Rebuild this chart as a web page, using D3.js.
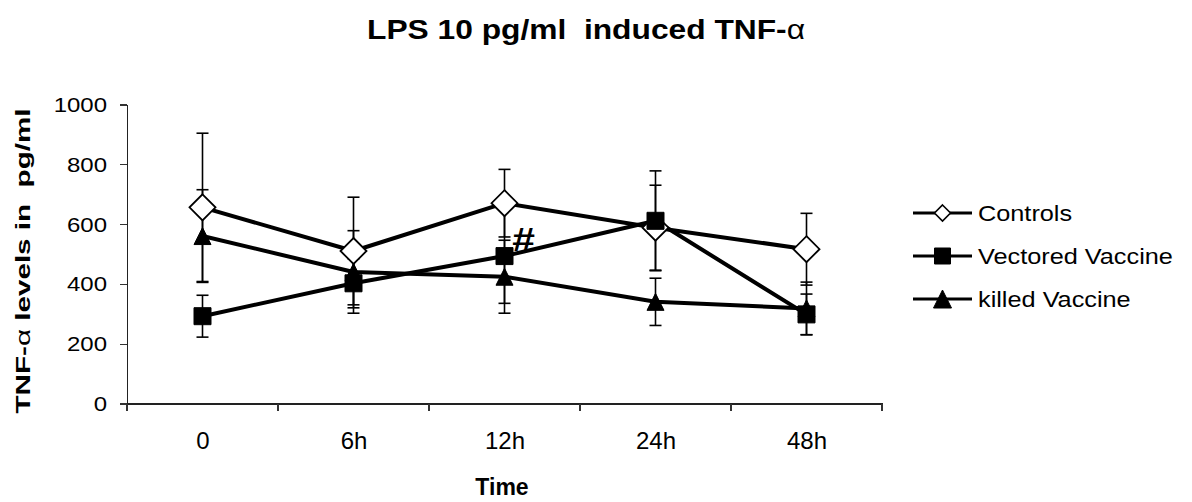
<!DOCTYPE html>
<html>
<head>
<meta charset="utf-8">
<script src="https://cdnjs.cloudflare.com/ajax/libs/d3/7.8.5/d3.min.js"></script>
<style>
  body { margin: 0; background: #fff; }
  svg text { font-family: "Liberation Sans", Arial, sans-serif; fill: #000; white-space: pre; }
</style>
</head>
<body>
<div id="chart"></div>
<script>

// Data
var categories = ["0", "6h", "12h", "24h", "48h"];
var yTicks = [0, 200, 400, 600, 800, 1000];

var controls      = [656, 510, 670, 588, 516];
var controlsErr   = [248, 180, 113, 142, 120];
var vectored      = [292, 402, 493, 611, 298];
var vectoredErr   = [70, 82, 158, 167, 68];
var killed        = [560, 440, 424, 340, 318];
var killedErr     = [155, 138, 122, 79, 88];

var seriesNames = ["Controls", "Vectored Vaccine", "killed Vaccine"];
var seriesShapes = ["diamond", "square", "triangle"];

var width = 1192, height = 502;

var svg = d3.select("#chart").append("svg")
  .attr("width", width)
  .attr("height", height);

svg.append("rect")
  .attr("width", width)
  .attr("height", height)
  .style("fill", "#fff");

// Scales
var x = d3.scalePoint()
  .domain(categories)
  .range([127, 882])
  .padding(0.5);

var xBand = d3.scaleBand()
  .domain(categories)
  .range([127, 882]);

var y = d3.scaleLinear()
  .domain([0, 1000])
  .range([403.5, 104.5]);

// Marker paths
function markerPath(shape, s){
  if (shape == "diamond") {
    return "M0," + (-s) + "L" + s + ",0L0," + s + "L" + (-s) + ",0Z";
  }
  if (shape == "square") {
    return "M" + (-s) + "," + (-s) + "H" + s + "V" + s + "H" + (-s) + "Z";
  }
  return "M0," + (-s) + "L" + s + "," + s + "H" + (-s) + "Z";
}
var markerSize = { diamond: 13, square: 8.5, triangle: 8.5 };

// Axes
var yAxis = d3.axisLeft(y)
  .tickValues(yTicks)
  .tickFormat(d3.format("d"))
  .tickSize(7)
  .tickSizeOuter(0);

var yAxisGroup = svg.append("g")
  .attr("class", "y-axis axis")
  .attr("transform", "translate(127,0)")
  .call(yAxis);

yAxisGroup.selectAll("text")
  .attr("x", null)
  .attr("dy", null)
  .attr("transform", "translate(-20,7) scale(1.2,1)")
  .style("font-size", "20px");

var xAxis = d3.axisBottom(x)
  .tickSize(0)
  .tickSizeOuter(0);

var xAxisGroup = svg.append("g")
  .attr("class", "x-axis axis")
  .attr("transform", "translate(0," + y(0) + ")")
  .call(xAxis);

xAxisGroup.selectAll("text")
  .attr("y", 45)
  .attr("dy", null)
  .style("font-size", "24px");

// category boundary ticks
xAxisGroup.selectAll(".bound")
  .data(categories.concat(["end"]))
  .enter()
  .append("line")
  .attr("class", "bound")
  .attr("x1", function(d){ return d == "end" ? xBand.range()[1] : xBand(d); })
  .attr("x2", function(d){ return d == "end" ? xBand.range()[1] : xBand(d); })
  .attr("y1", 0)
  .attr("y2", 7);

svg.selectAll(".axis path, .axis line")
  .style("stroke", "#333")
  .style("stroke-width", 1.2)
  .style("shape-rendering", "crispEdges");
svg.selectAll(".axis .domain").style("stroke", "#222");

// Titles
var title = svg.append("text")
  .attr("x", 586)
  .attr("y", 39)
  .attr("text-anchor", "middle")
  .attr("textLength", 438)
  .attr("lengthAdjust", "spacingAndGlyphs")
  .style("font-size", "28px")
  .style("font-weight", "bold");
title.append("tspan").text("LPS 10 pg/ml  induced TNF-");
title.append("tspan").style("font-weight", "normal").text("\u03b1");

svg.append("text")
  .attr("x", 502)
  .attr("y", 495)
  .attr("text-anchor", "middle")
  .style("font-size", "23px")
  .style("font-weight", "bold")
  .text("Time");

var yLabel = svg.append("text")
  .attr("transform", "translate(30,261) rotate(-90)")
  .attr("text-anchor", "middle")
  .attr("textLength", 305)
  .attr("lengthAdjust", "spacingAndGlyphs")
  .style("font-size", "21px")
  .style("font-weight", "bold");
yLabel.append("tspan").text("TNF-");
yLabel.append("tspan").style("font-weight", "normal").text("\u03b1");
yLabel.append("tspan").text(" levels in  pg/ml");

// Series
var series = [
  { name: seriesNames[0], shape: seriesShapes[0], values: controls, err: controlsErr, fill: "#fff" },
  { name: seriesNames[1], shape: seriesShapes[1], values: vectored, err: vectoredErr, fill: "#000" },
  { name: seriesNames[2], shape: seriesShapes[2], values: killed, err: killedErr, fill: "#000" }
];

var line = d3.line()
  .x(function(d){ return x(d.cat); })
  .y(function(d){ return y(d.v); });

series.forEach(function(s){
  s.points = categories.map(function(c, i){
    return { cat: c, v: s.values[i], e: s.err[i] };
  });
});

// error bars first
series.forEach(function(s){
  var g = svg.append("g").attr("class", "errors");
  var eb = g.selectAll(".eb")
    .data(s.points)
    .enter()
    .append("g")
    .attr("class", "eb")
    .style("stroke", "#000")
    .style("stroke-width", 1.6);
  eb.append("line")
    .attr("x1", function(d){ return x(d.cat); })
    .attr("x2", function(d){ return x(d.cat); })
    .attr("y1", function(d){ return y(d.v - d.e); })
    .attr("y2", function(d){ return y(d.v + d.e); });
  [-1, 1].forEach(function(sign){
    eb.append("line")
      .attr("x1", function(d){ return x(d.cat) - 6; })
      .attr("x2", function(d){ return x(d.cat) + 6; })
      .attr("y1", function(d){ return y(d.v + sign * d.e); })
      .attr("y2", function(d){ return y(d.v + sign * d.e); });
  });
});

// lines
series.forEach(function(s){
  svg.append("path")
    .datum(s.points)
    .attr("d", line)
    .style("fill", "none")
    .style("stroke", "#000")
    .style("stroke-width", 4)
    .style("stroke-linejoin", "round");
});

// markers
series.forEach(function(s){
  svg.selectAll(".m-" + s.shape)
    .data(s.points)
    .enter()
    .append("path")
    .attr("class", "m-" + s.shape)
    .attr("transform", function(d){ return "translate(" + x(d.cat) + "," + y(d.v) + ")"; })
    .attr("d", markerPath(s.shape, markerSize[s.shape]))
    .style("fill", s.fill)
    .style("stroke", "#000")
    .style("stroke-width", s.shape == "diamond" ? 1.8 : 1);
});

// significance mark on vectored vaccine at 12h
svg.append("text")
  .attr("transform", "translate(" + (x("12h") + 19) + "," + (y(vectored[2]) - 5) + ") scale(1.2,1)")
  .attr("text-anchor", "middle")
  .style("font-size", "34px")
  .style("font-weight", "bold")
  .text("#");

// Legend
var legend = svg.selectAll(".legendItem")
  .data(series)
  .enter()
  .append("g")
  .attr("class", "legendItem")
  .attr("transform", function(d, i){ return "translate(913," + (213 + i * 43) + ")"; });

legend.append("line")
  .attr("x1", 0)
  .attr("x2", 59)
  .style("stroke", "#000")
  .style("stroke-width", 3);

legend.append("path")
  .attr("transform", "translate(29.5,0)")
  .attr("d", function(d){
    var s = d.shape == "diamond" ? 8 : (d.shape == "square" ? 8 : 9);
    return markerPath(d.shape, s);
  })
  .style("fill", function(d){ return d.fill; })
  .style("stroke", "#000")
  .style("stroke-width", function(d){ return d.shape == "diamond" ? 1.6 : 1; });

legend.append("text")
  .attr("transform", "translate(65,7.5) scale(1.15,1)")
  .style("font-size", "22px")
  .text(function(d){ return d.name; });

</script>
</body>
</html>
